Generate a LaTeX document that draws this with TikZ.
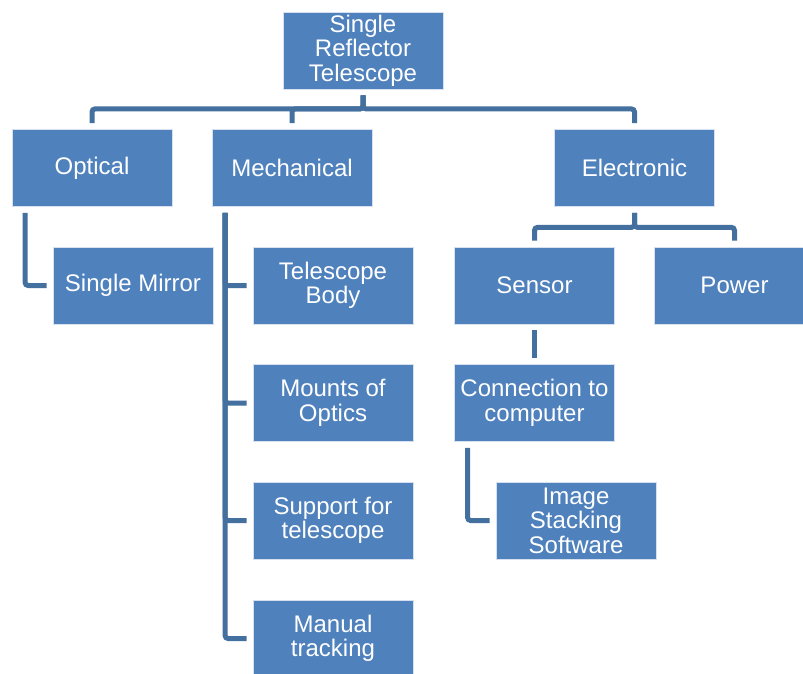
\documentclass[tikz,border=0pt]{standalone}
\usepackage{fontspec}
\setmainfont{Liberation Sans}
\definecolor{boxblue}{HTML}{4F81BD}
\definecolor{boxedge}{HTML}{D6E0EE}
\definecolor{linkblue}{HTML}{44709F}
\tikzset{
  box/.style={rectangle, fill=boxblue, draw=boxedge, line width=0.8pt,
    minimum width=160pt, minimum height=77pt, inner sep=0pt,
    text=white, align=center, font=\fontsize{24}{24.5}\selectfont},
  conn/.style={draw=linkblue, line width=5pt, rounded corners=3pt,
    shorten <=6pt, shorten >=6pt}
}
\begin{document}
\begin{tikzpicture}[x=1pt,y=-1pt]
\useasboundingbox (0,0) rectangle (803,673);
\fill[white] (0,0) rectangle (803,673);
\node[box] (top) at (363,50.5) {Single\\Reflector\\Telescope};
\node[box] (opt) at (92,168) {Optical};
\node[box] (mech) at (292,168) {Mechanical};
\node[box] (elec) at (634.5,168) {Electronic};
\node[box] (mirror) at (133,285.5) {Single Mirror};
\node[box] (body) at (333,285.5) {Telescope\\Body};
\node[box] (mounts) at (333,403) {Mounts of\\Optics};
\node[box] (support) at (333,520.5) {Support for\\telescope};
\node[box] (manual) at (333,638.5) {Manual\\tracking};
\node[box] (sensor) at (534.5,285.5) {Sensor};
\node[box] (power) at (734.5,285.5) {Power};
\node[box] (cc) at (534.5,403) {Connection to\\computer};
\node[box] (img) at (576,520.5) {Image\\Stacking\\Software};
% top level bus
\draw[conn] (top.south) -- ++(0,19.5) -| (opt.north);
\draw[conn] (top.south) -- ++(0,19.5) -| (mech.north);
\draw[conn] (top.south) -- ++(0,19.5) -| (elec.north);
% optical
\draw[conn] ([xshift=13.5pt]opt.south west) |- (mirror.west);
% mechanical
\draw[conn] ([xshift=13.5pt]mech.south west) |- (body.west);
\draw[conn] ([xshift=13.5pt]mech.south west) |- (mounts.west);
\draw[conn] ([xshift=13.5pt]mech.south west) |- (support.west);
\draw[conn] ([xshift=13.5pt]mech.south west) |- (manual.west);
% electronic
\draw[conn] (elec.south) -- ++(0,20.5) -| (sensor.north);
\draw[conn] (elec.south) -- ++(0,20.5) -| (power.north);
\draw[conn] (sensor.south) -- (cc.north);
\draw[conn] ([xshift=13.5pt]cc.south west) |- (img.west);
\end{tikzpicture}
\end{document}
